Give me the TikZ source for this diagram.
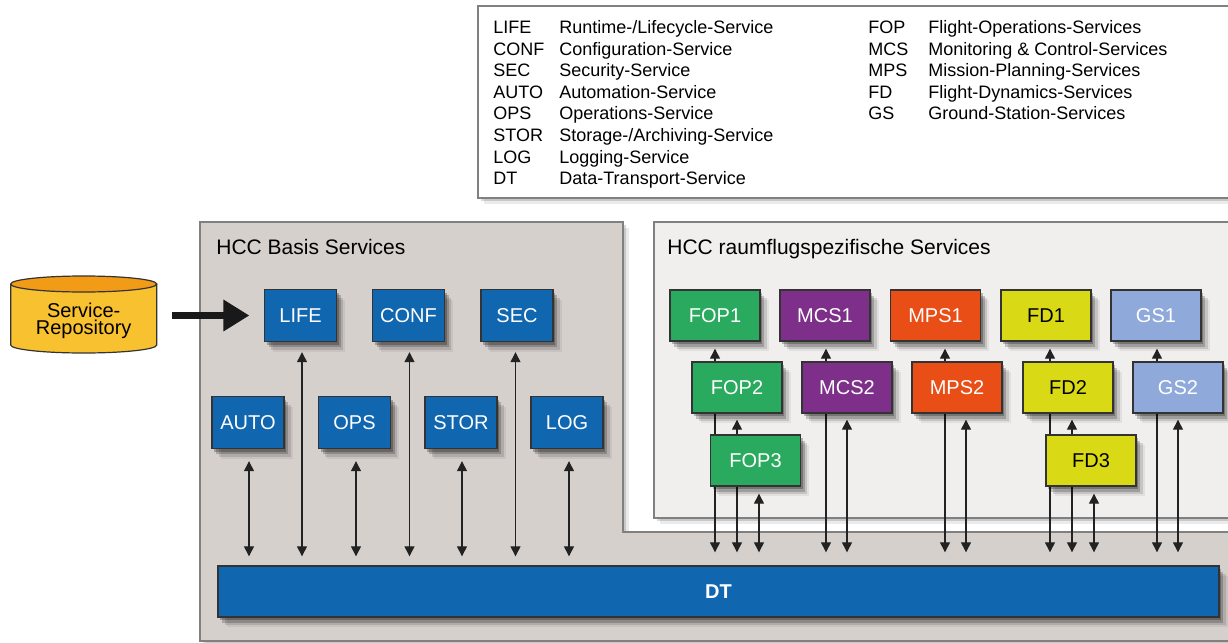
\documentclass[tikz,border=0pt]{standalone}
\usepackage{fontspec}
\setmainfont{Liberation Sans}
\usetikzlibrary{arrows.meta,shadows,calc}
\definecolor{panelgray}{HTML}{D5D0CC}
\definecolor{panelwhite}{HTML}{F0EFED}
\definecolor{panelline}{HTML}{808080}
\definecolor{hccblue}{HTML}{1166B0}
\definecolor{fopgreen}{HTML}{2AAA5F}
\definecolor{mcspurple}{HTML}{7E2F8A}
\definecolor{mpsorange}{HTML}{E84E16}
\definecolor{fdyellow}{HTML}{D9DA15}
\definecolor{gsblue}{HTML}{8FA9DA}
\definecolor{cylside}{HTML}{F8C12F}
\definecolor{cyltop}{HTML}{F29B16}
\definecolor{boxline}{HTML}{333333}
\definecolor{linec}{HTML}{222222}
\pgfdeclarelayer{bg}
\pgfdeclarelayer{lines}
\pgfsetlayers{bg,lines,main}
\newcommand{\busconn}[4]{\draw[conn,shorten <=#3,shorten >=#4] ($(#1.south)+(#2,0)$) -- ($(#1.south |- DT.north)+(#2,0)$);}
\begin{document}
\begin{tikzpicture}[x=0.5pt,y=-0.5pt,
  shadowed/.style={
    general shadow={shadow xshift=1.2pt,shadow yshift=-1.6pt,fill=black,opacity=.25},
    general shadow={shadow xshift=2.2pt,shadow yshift=-2.8pt,fill=black,opacity=.2},
    general shadow={shadow xshift=3.4pt,shadow yshift=-4pt,fill=black,opacity=.12},
    general shadow={shadow xshift=4.4pt,shadow yshift=-5pt,fill=black,opacity=.06}},
  softshadow/.style={
    general shadow={shadow xshift=1.5pt,shadow yshift=-1.5pt,fill=black,opacity=.15},
    general shadow={shadow xshift=3pt,shadow yshift=-3pt,fill=black,opacity=.08}},
  svc/.style={draw=boxline,line width=0.7pt,inner sep=0pt,font=\fontsize{10}{12}\selectfont,shadowed},
  basis/.style={svc,fill=hccblue,text=white,minimum width=36pt,minimum height=26pt},
  spacebox/.style={svc,minimum width=45pt,minimum height=25.5pt},
  conn/.style={draw=linec,line width=0.65pt,arrows={Triangle[length=5pt,width=5pt]-Triangle[length=5pt,width=5pt]}},
  legtext/.style={anchor=base west,inner sep=0pt,font=\fontsize{9}{10.8}\selectfont},
  paneltitle/.style={anchor=base west,inner sep=0pt,font=\fontsize{10.5}{12}\selectfont}]
\useasboundingbox (0,0) rectangle (1228,643);
\clip (0,0) rectangle (1228,643);

\begin{pgfonlayer}{bg}
  % legend box
  \draw[panelline,line width=0.7pt,fill=white,softshadow] (478,6) rectangle (1240,198);
  % left panel (L-shaped)
  \draw[panelline,line width=0.8pt,fill=panelgray,softshadow]
    (200,222) -- (623,222) -- (623,532) -- (1240,532) -- (1240,641) -- (200,641) -- cycle;
  % right panel
  \draw[panelline,line width=0.8pt,fill=panelwhite,softshadow] (654,222) rectangle (1240,518);
\end{pgfonlayer}

% legend
\node[legtext] (leg1) at (493,33.5) {\begin{tabular}[t]{@{}p{33pt}@{}l@{}}
LIFE & Runtime-/Lifecycle-Service\\
CONF & Configuration-Service\\
SEC & Security-Service\\
AUTO & Automation-Service\\
OPS & Operations-Service\\
STOR & Storage-/Archiving-Service\\
LOG & Logging-Service\\
DT & Data-Transport-Service
\end{tabular}};
\node[legtext] (leg2) at (868,33.5) {\begin{tabular}[t]{@{}p{30pt}@{}l@{}}
FOP & Flight-Operations-Services\\
MCS & Monitoring \& Control-Services\\
MPS & Mission-Planning-Services\\
FD & Flight-Dynamics-Services\\
GS & Ground-Station-Services
\end{tabular}};

% panel titles
\node[paneltitle] (t1) at (216,254.5) {HCC Basis Services};
\node[paneltitle] (t2) at (667,254.5) {HCC raumflugspezifische Services};

% cylinder
\fill[cylside] (10.7,284) -- (10.7,345) arc[start angle=180,end angle=0,x radius=73,y radius=8] -- (156.7,284) -- cycle;
\draw[boxline,line width=0.6pt] (10.7,284) -- (10.7,345) arc[start angle=180,end angle=0,x radius=73,y radius=8] -- (156.7,284);
\draw[boxline,line width=0.6pt,fill=cyltop] (83.7,284) ellipse [x radius=73,y radius=8];
\node[minimum width=73pt,minimum height=34.5pt,inner sep=0pt,align=center,
  font=\fontsize{10}{8.5}\selectfont] (repo) at (83.7,321) {Service-\\Repository};

% basis services
\node[basis] (LIFE) at (300.5,315.5) {LIFE};
\node[basis] (CONF) at (408.5,315.5) {CONF};
\node[basis] (SEC)  at (517,315.5) {SEC};
\node[basis] (AUTO) at (248,422.5) {AUTO};
\node[basis] (OPS)  at (354.5,422.5) {OPS};
\node[basis] (STOR) at (461,422.5) {STOR};
\node[basis] (LOG)  at (567,422.5) {LOG};

% space services
\node[spacebox,fill=fopgreen,text=white]  (FOP1) at (715,315.5) {FOP1};
\node[spacebox,fill=mcspurple,text=white] (MCS1) at (825,315.5) {MCS1};
\node[spacebox,fill=mpsorange,text=white] (MPS1) at (935.5,315.5) {MPS1};
\node[spacebox,fill=fdyellow,text=black]  (FD1)  at (1046,315.5) {FD1};
\node[spacebox,fill=gsblue,text=white]    (GS1)  at (1156,315.5) {GS1};
\node[spacebox,fill=fopgreen,text=white]  (FOP2) at (737,387.5) {FOP2};
\node[spacebox,fill=mcspurple,text=white] (MCS2) at (847,387.5) {MCS2};
\node[spacebox,fill=mpsorange,text=white] (MPS2) at (957,387.5) {MPS2};
\node[spacebox,fill=fdyellow,text=black]  (FD2)  at (1068,387.5) {FD2};
\node[spacebox,fill=gsblue,text=white]    (GS2)  at (1178,387.5) {GS2};
\node[spacebox,fill=fopgreen,text=white]  (FOP3) at (755.5,460.5) {FOP3};
\node[spacebox,fill=fdyellow,text=black]  (FD3)  at (1091,460.5) {FD3};

% data transport bar
\node[svc,fill=hccblue,text=white,minimum width=500.5pt,minimum height=25.5pt,
  font=\fontsize{10}{12}\selectfont\bfseries] (DT) at (718.5,591.5) {DT};

% repository arrow
\draw[draw=black!90,line width=3.5pt,-{Triangle[length=13pt,width=15pt]},
  shorten <=7.6pt,shorten >=7.2pt] (repo.east |- LIFE.west) -- (LIFE.west);

% connectors
\begin{pgfonlayer}{lines}
  \busconn{LIFE}{1.5}{5pt}{4.5pt}
  \busconn{CONF}{1}{5pt}{4.5pt}
  \busconn{SEC}{-1.5}{5pt}{4.5pt}
  \busconn{AUTO}{1}{6pt}{4.5pt}
  \busconn{OPS}{1.5}{6pt}{4.5pt}
  \busconn{STOR}{1}{6pt}{4.5pt}
  \busconn{LOG}{2}{6pt}{4.5pt}
  \busconn{FOP1}{0}{3.5pt}{6.5pt}
  \busconn{FOP2}{0}{3pt}{6.5pt}
  \busconn{FOP3}{3.5}{3.5pt}{6.5pt}
  \busconn{MCS1}{1}{3.5pt}{6.5pt}
  \busconn{MCS2}{0}{3pt}{6.5pt}
  \busconn{MPS1}{9.5}{3.5pt}{6.5pt}
  \busconn{MPS2}{9}{3pt}{6.5pt}
  \busconn{FD1}{4}{3.5pt}{6.5pt}
  \busconn{FD2}{4}{3pt}{6.5pt}
  \busconn{FD3}{3}{3.5pt}{6.5pt}
  \busconn{GS1}{1}{3.5pt}{6.5pt}
  \busconn{GS2}{0}{3pt}{6.5pt}
\end{pgfonlayer}
\end{tikzpicture}
\end{document}
